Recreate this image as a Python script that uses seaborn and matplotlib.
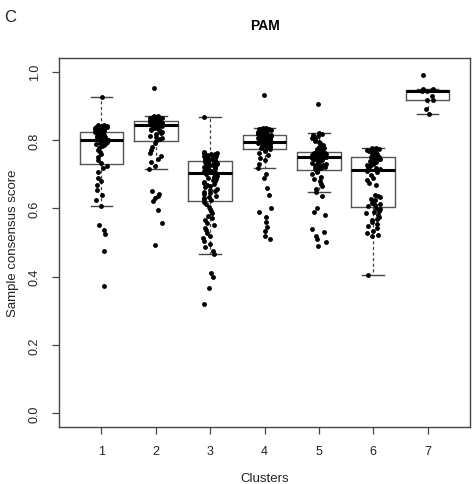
import numpy as np
import pandas as pd
import matplotlib
matplotlib.use("Agg")
import matplotlib.pyplot as plt
import seaborn as sns

# consensus score per sample, grouped by PAM cluster
cluster1 = [0.927, 0.845, 0.843, 0.842, 0.840, 0.838, 0.837, 0.835, 0.834, 0.832, 0.831, 0.830, 0.829, 0.827, 0.826,
            0.824, 0.823, 0.822, 0.820, 0.819, 0.818, 0.816, 0.815, 0.813, 0.811, 0.810, 0.808, 0.806, 0.804, 0.801,
            0.799, 0.797, 0.795, 0.792, 0.790, 0.788, 0.785, 0.782, 0.778, 0.772, 0.765, 0.758, 0.750, 0.742, 0.733,
            0.725, 0.718, 0.705, 0.690, 0.680, 0.668, 0.655, 0.640, 0.625, 0.606, 0.550, 0.538, 0.526, 0.475, 0.374]
cluster2 = [0.953, 0.870, 0.869, 0.868, 0.867, 0.866, 0.865, 0.864, 0.863, 0.862, 0.861, 0.860, 0.859, 0.858, 0.857, 0.856, 0.855,
            0.854, 0.853, 0.853, 0.852, 0.851, 0.851, 0.850, 0.849, 0.849, 0.848, 0.847, 0.847, 0.846, 0.845, 0.845, 0.844, 0.843,
            0.842, 0.840, 0.838, 0.836, 0.834, 0.832, 0.830, 0.828, 0.825, 0.822, 0.820, 0.817, 0.813, 0.810, 0.806, 0.802, 0.798,
            0.790, 0.780, 0.770, 0.762, 0.752, 0.745, 0.735, 0.725, 0.715, 0.650, 0.642, 0.636, 0.630, 0.622, 0.594, 0.558, 0.494]
cluster3 = [0.866, 0.765, 0.763, 0.761, 0.760, 0.758, 0.757, 0.756, 0.755, 0.754, 0.753, 0.752, 0.751, 0.750, 0.749,
            0.748, 0.747, 0.746, 0.745, 0.744, 0.743, 0.742, 0.741, 0.740, 0.739,
            0.737, 0.736, 0.735, 0.734, 0.733, 0.732, 0.731, 0.730, 0.729, 0.728, 0.727, 0.726, 0.725, 0.723, 0.722,
            0.720, 0.719, 0.717, 0.715, 0.713, 0.711, 0.709, 0.708, 0.706, 0.705,
            0.702, 0.699, 0.696, 0.693, 0.690, 0.687, 0.684, 0.681, 0.678, 0.675, 0.672, 0.668, 0.665, 0.661, 0.658,
            0.655, 0.651, 0.648, 0.645, 0.641, 0.637, 0.634, 0.630, 0.627, 0.623,
            0.618, 0.612, 0.605, 0.598, 0.592, 0.585, 0.578, 0.572, 0.565, 0.558, 0.550, 0.543, 0.536, 0.528, 0.520,
            0.512, 0.503, 0.495, 0.486, 0.475, 0.465, 0.411, 0.398, 0.368, 0.319]
cluster4 = [0.933, 0.835, 0.834, 0.833, 0.832, 0.831, 0.830, 0.829, 0.828, 0.827, 0.826, 0.825, 0.824, 0.823, 0.822, 0.821, 0.820, 0.819, 0.818, 0.817,
            0.815, 0.814, 0.813, 0.812, 0.811, 0.810, 0.809, 0.808, 0.807, 0.806, 0.805, 0.804, 0.803, 0.802, 0.801, 0.800, 0.799, 0.798, 0.797, 0.796,
            0.795, 0.794, 0.793, 0.792, 0.791, 0.790, 0.789, 0.788, 0.787, 0.786, 0.785, 0.784, 0.783, 0.782, 0.781, 0.780, 0.779, 0.778, 0.776, 0.775,
            0.772, 0.768, 0.762, 0.755, 0.748, 0.740, 0.730, 0.718, 0.700, 0.690, 0.660, 0.640, 0.600, 0.590, 0.575, 0.560, 0.545, 0.535, 0.520, 0.509]
cluster5 = [0.905, 0.820, 0.818, 0.815, 0.812, 0.810, 0.808, 0.805, 0.802, 0.798, 0.795, 0.790, 0.785, 0.780, 0.777, 0.774, 0.771, 0.769, 0.767, 0.765,
            0.763, 0.762, 0.761, 0.760, 0.760, 0.759, 0.758, 0.757, 0.757, 0.756, 0.755, 0.755, 0.754, 0.753, 0.753, 0.752, 0.752, 0.751, 0.751, 0.750,
            0.749, 0.748, 0.746, 0.745, 0.743, 0.741, 0.739, 0.737, 0.735, 0.733, 0.731, 0.729, 0.727, 0.725, 0.723, 0.721, 0.719, 0.717, 0.715, 0.714,
            0.710, 0.705, 0.700, 0.693, 0.686, 0.680, 0.672, 0.665, 0.657, 0.648, 0.637, 0.600, 0.590, 0.580, 0.540, 0.530, 0.520, 0.510, 0.500, 0.491]
cluster6 = [0.777, 0.776, 0.775, 0.774, 0.773, 0.772, 0.771, 0.770, 0.769, 0.768, 0.767, 0.765, 0.763, 0.761, 0.759, 0.757, 0.755, 0.753,
            0.751, 0.749, 0.747, 0.745, 0.743, 0.741, 0.739, 0.737, 0.735, 0.733, 0.731, 0.729, 0.727, 0.724, 0.721, 0.719, 0.716, 0.714,
            0.710, 0.705, 0.698, 0.690, 0.682, 0.675, 0.668, 0.640, 0.635, 0.632, 0.628, 0.625, 0.621, 0.618, 0.615, 0.612, 0.609, 0.606,
            0.601, 0.597, 0.593, 0.589, 0.585, 0.580, 0.575, 0.570, 0.565, 0.560, 0.555, 0.548, 0.542, 0.535, 0.528, 0.522, 0.518, 0.404]
cluster7 = [0.991, 0.950, 0.948, 0.946, 0.945, 0.944, 0.944, 0.930, 0.918, 0.916, 0.892, 0.876]

clusters = ["1", "2", "3", "4", "5", "6", "7"]
scores = [cluster1, cluster2, cluster3, cluster4, cluster5, cluster6, cluster7]

# long format for seaborn
df = pd.DataFrame({
    "cluster": np.repeat(clusters, [len(s) for s in scores]),
    "score": np.concatenate(scores),
})

plt.rcParams["font.family"] = ["Liberation Sans", "DejaVu Sans"]

fig = plt.figure(figsize=(4.72, 4.85), dpi=100)
ax = fig.add_axes([0.125, 0.1175, 0.8708, 0.7609])

# R-style boxplot: grey box, thick black median, dashed whiskers
sns.boxplot(data=df, x="cluster", y="score", order=clusters, ax=ax,
            width=0.8, fill=False, showfliers=False, whis=1.5,
            color="#555555", linewidth=1.0,
            medianprops=dict(color="black", linewidth=2.2),
            whiskerprops=dict(color="#444444", linestyle=(0, (2.5, 2)), linewidth=0.9),
            capprops=dict(color="#444444", linewidth=1.0))

np.random.seed(3)
sns.stripplot(data=df, x="cluster", y="score", order=clusters, ax=ax,
              color="black", size=3.5, jitter=0.13, linewidth=0, zorder=5)

ax.set_xlim(-0.78, 6.78)
ax.set_ylim(-0.04, 1.04)
ax.set_yticks([0.0, 0.2, 0.4, 0.6, 0.8, 1.0])
ax.set_yticklabels(["0.0", "0.2", "0.4", "0.6", "0.8", "1.0"], rotation=90, va="center")

for side in ["top", "right", "left", "bottom"]:
    ax.spines[side].set_visible(True)
    ax.spines[side].set_color("#444444")
    ax.spines[side].set_linewidth(1.0)

ax.tick_params(axis="both", direction="out", length=5, width=0.9, color="#444444",
               labelsize=9, labelcolor="#222222", pad=8)

ax.set_xlabel("Clusters", fontsize=9.5, color="#222222", labelpad=11)
ax.set_ylabel("Sample consensus score", fontsize=9.5, color="#222222", labelpad=7)
ax.set_title("PAM", fontsize=10, fontweight="bold", pad=21)
fig.text(0.008, 0.963, "C", fontsize=12, color="#222222", va="center", ha="left")

plt.savefig("out.png", dpi=100)
